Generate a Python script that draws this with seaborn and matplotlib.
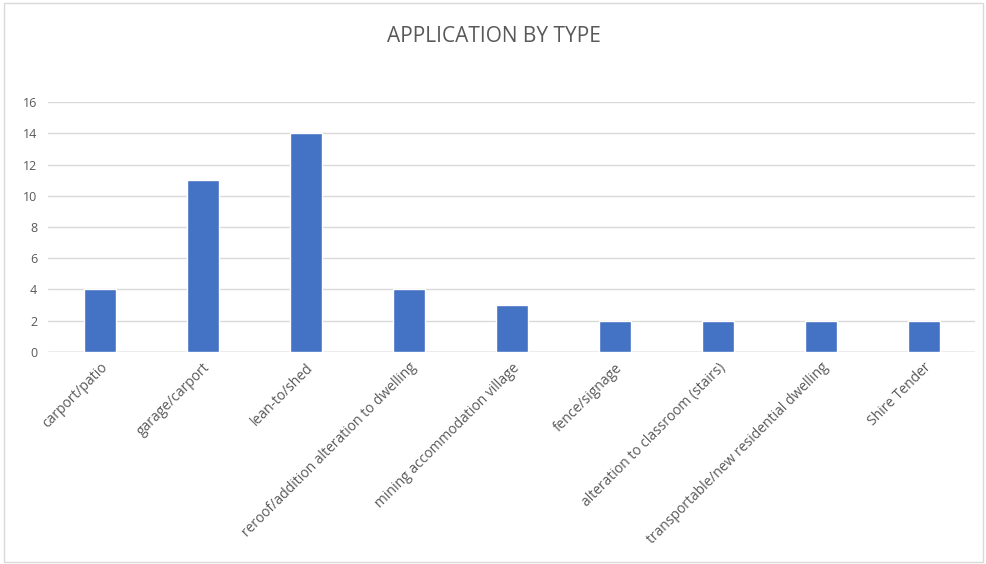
"""
Application by type bar chart
"""
import numpy as np
import pandas as pd
import matplotlib
matplotlib.use("Agg")
import matplotlib.pyplot as plt
import seaborn as sns
from matplotlib.patches import Rectangle


# data
categories = [
    "carport/patio",
    "garage/carport",
    "lean-to/shed",
    "reroof/addition alteration to dwelling",
    "mining accommodation village",
    "fence/signage",
    "alteration to classroom (stairs)",
    "transportable/new residential dwelling",
    "Shire Tender",
]
counts = [4, 11, 14, 4, 3, 2, 2, 2, 2]
y_ticks = [0, 2, 4, 6, 8, 10, 12, 14, 16]

BAR_COLOR = "#4472C4"
TEXT_COLOR = "#595959"
GRID_COLOR = "#D9D9D9"

df = pd.DataFrame({"type": categories, "count": counts})

sns.set_theme(style="white")
plt.rcParams["font.family"] = ["Open Sans", "DejaVu Sans"]

fig = plt.figure(figsize=(9.87, 5.64), dpi=100)
ax = fig.add_axes([0.049, 0.376, 0.939, 0.443])

sns.barplot(data=df, x="type", y="count", color=BAR_COLOR, width=0.31,
            saturation=1, ax=ax, zorder=3)

# axes formatting
ax.set_ylim(0, 16)
ax.set_yticks(y_ticks)
ax.set_xlim(-0.5, len(categories) - 0.5)
ax.yaxis.grid(True, color=GRID_COLOR, linewidth=1, zorder=0)
ax.axhline(0, color="#BFBFBF", linewidth=1, zorder=2)
for s in ax.spines.values():
    s.set_visible(False)
ax.tick_params(axis="both", length=0, colors=TEXT_COLOR, labelsize=9)
ax.tick_params(axis="y", pad=8)
ax.tick_params(axis="x", pad=6)
ax.set_xticks(range(len(categories)))
ax.set_xticklabels(categories, rotation=45, ha="right", rotation_mode="anchor",
                   color=TEXT_COLOR, fontsize=10)
ax.set_xlabel("")
ax.set_ylabel("")

fig.text(0.5, 0.935, "APPLICATION BY TYPE", ha="center", va="center",
         fontsize=15, color=TEXT_COLOR)

# light chart frame
fig.patches.append(Rectangle((0.004, 0.004), 0.992, 0.99, transform=fig.transFigure,
                             fill=False, edgecolor="#D9D9D9", linewidth=1))

fig.savefig("out.png", dpi=100, facecolor="white")
